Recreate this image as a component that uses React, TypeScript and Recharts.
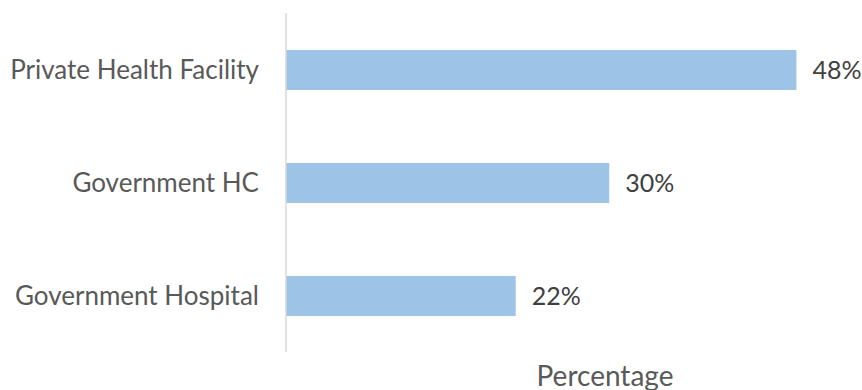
import { Bar, BarChart, LabelList, XAxis, YAxis } from "recharts";

const categories = ["Private Health Facility", "Government HC", "Government Hospital"];
const percentages = [48.0, 30.4, 21.6];

const data = categories.map((name, i) => ({ name, value: percentages[i] }));

const font = "Lato, 'Open Sans', sans-serif";

export default function App() {
  return (
    <div style={{ position: "absolute", left: 0, top: 0, width: 862, height: 390, overflow: "hidden" }}>
      <BarChart
        width={862}
        height={390}
        layout="vertical"
        data={data}
        margin={{ top: 13, right: -62, bottom: 0, left: 0 }}
      >
        <XAxis
          type="number"
          domain={[0, 60]}
          tick={false}
          axisLine={false}
          tickLine={false}
          height={38}
          label={{
            value: "Percentage",
            position: "insideBottom",
            offset: 4,
            fill: "#595959",
            fontSize: 28,
            fontFamily: font,
          }}
        />
        <YAxis
          type="category"
          dataKey="name"
          width={286}
          tickLine={false}
          tickMargin={21}
          axisLine={{ stroke: "#d9d9d9", strokeWidth: 1.5 }}
          tick={{ fill: "#595959", fontSize: 26, fontFamily: font }}
        />
        <Bar dataKey="value" fill="#9dc3e6" barSize={40} isAnimationActive={false}>
          <LabelList
            dataKey="value"
            position="right"
            offset={16}
            formatter={(v: number) => `${Math.round(v)}%`}
            fill="#404040"
            fontSize={25}
            fontFamily={font}
          />
        </Bar>
      </BarChart>
    </div>
  );
}
